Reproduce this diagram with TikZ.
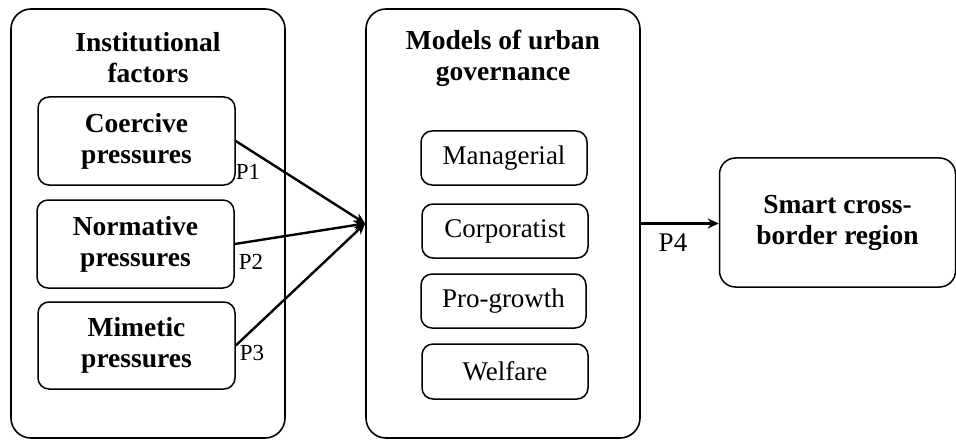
\documentclass[tikz,border=0pt]{standalone}
\usepackage{fontspec}
\setmainfont{Liberation Serif}
\usetikzlibrary{arrows.meta}
\begin{document}
\begin{tikzpicture}[x=1pt,y=-1pt,
  outerbox/.style={draw, line width=1.6pt, rounded corners=20pt},
  innerbox/.style={draw, line width=1.5pt, rounded corners=11pt, align=center},
  titletext/.style={font=\fontsize{27.5}{31}\selectfont\bfseries, align=center},
  itemtext/.style={font=\fontsize{27}{31}\selectfont},
  plabel/.style={font=\fontsize{23}{25}\selectfont, inner sep=0pt},
  link/.style={line width=2.4pt, -{Stealth[length=11pt,width=10pt]}}]
\useasboundingbox (0,0) rectangle (956,441);

% left group: institutional factors
\node[outerbox, minimum width=274pt, minimum height=429pt] (inst) at (148,223.5) {};
\node[titletext] (insttitle) at (148,58) {Institutional\\factors};
\node[innerbox, minimum width=197pt, minimum height=88pt, titletext] (coer) at (136.5,141) {Coercive\\pressures};
\node[innerbox, minimum width=197pt, minimum height=88pt, titletext] (norm) at (135.5,244) {Normative\\pressures};
\node[innerbox, minimum width=197pt, minimum height=87pt, titletext] (mime) at (136.5,345.5) {Mimetic\\pressures};

% middle group: models of urban governance
\node[outerbox, minimum width=274pt, minimum height=429pt] (models) at (503,223.5) {};
\node[titletext] (modtitle) at (503,58) {Models of urban\\governance};
\node[innerbox, minimum width=166pt, minimum height=54pt, itemtext] (mana) at (504,158) {Managerial};
\node[innerbox, minimum width=166pt, minimum height=54pt, itemtext] (corp) at (505,231) {Corporatist};
\node[innerbox, minimum width=165pt, minimum height=54pt, itemtext] (prog) at (503.5,301) {Pro-growth};
\node[innerbox, minimum width=166pt, minimum height=55pt, itemtext] (welf) at (505,371.5) {Welfare};

% right: outcome
\node[innerbox, rounded corners=16pt, minimum width=236pt, minimum height=129pt, titletext] (smart) at (837.5,222.5) {Smart cross-\\border region};

% propositions
\draw[link] (coer.east) -- (models.west);
\draw[link] (norm.east) -- (models.west);
\draw[link] (mime.east) -- (models.west);
\draw[line width=2.2pt, -{Stealth[length=11pt,width=10pt]}] (models.east) -- (smart.west |- models.east);

\node[plabel] (p1) at (248,172) {P1};
\node[plabel] (p2) at (251,262) {P2};
\node[plabel] (p3) at (252,353) {P3};
\node[plabel, font=\fontsize{27}{30}\selectfont] (p4) at (673,243) {P4};
\end{tikzpicture}
\end{document}
